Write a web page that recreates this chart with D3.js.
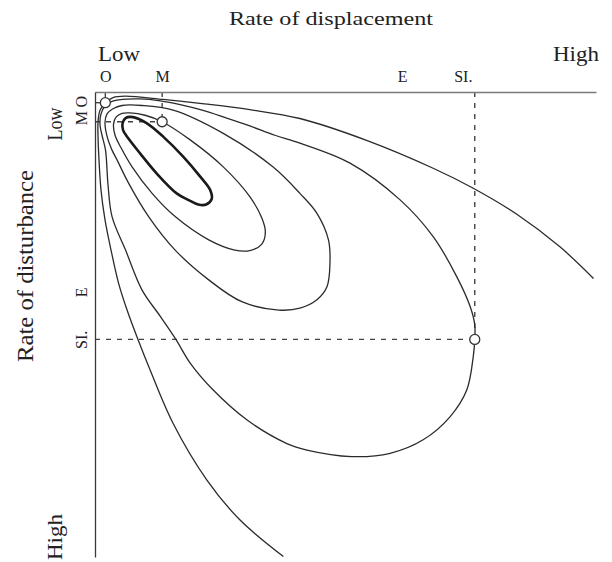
<!DOCTYPE html>
<html>
<head>
<meta charset="utf-8">
<script src="https://cdn.jsdelivr.net/npm/d3@7"></script>
<style>
  html, body { margin: 0; padding: 0; background: #fff; }
  svg { display: block; }
  text { font-family: "Liberation Serif", "Times New Roman", serif; fill: #222; }
</style>
</head>
<body>
<svg id="chart" width="612" height="562"></svg>
<script>
// Species-richness contours over rate of displacement (x) and rate of disturbance (y),
// both on a relative 0–100 scale where 0 is "low". Points are [displacement, disturbance].

// Highest contour: small closed loop (drawn heavy)
const innerLoop = [
  [5.5, 6.7], [6.1, 5.6], [7.6, 5.4], [10.3, 6.7], [13.6, 9.6], [17.6, 13.9],
  [21.0, 18.2], [23.0, 21.1], [23.3, 23.0], [22.2, 24.2], [20.6, 24.2], [18.6, 23.2],
  [16.3, 21.8], [12.3, 17.5], [9.0, 13.2], [6.6, 9.9], [5.6, 8.2]
];

// Contour through point M
const loopM = [
  [3.7, 6.9], [4.2, 5.4], [5.4, 4.6], [7.0, 4.5], [10.0, 5.0], [13.4, 6.4],
  [19.0, 10.3], [25.6, 16.1], [30.9, 22.5], [33.3, 27.1], [34.0, 30.1], [33.3, 32.7],
  [30.9, 34.1], [27.9, 34.0], [22.7, 31.8], [16.0, 26.8], [11.4, 21.8], [7.4, 16.1],
  [5.2, 12.0], [4.0, 9.3]
];

// Intermediate contour
const loopMid = [
  [2.0, 6.5], [2.4, 4.7], [3.6, 3.6], [5.4, 2.9], [9.4, 2.9], [15.6, 3.9],
  [25.6, 8.9], [35.5, 16.1], [40.9, 21.8], [44.3, 26.1], [46.6, 31.8], [46.9, 36.8],
  [46.3, 41.9], [44.3, 44.7], [40.9, 46.5], [36.7, 46.9], [29.3, 45.1], [22.7, 40.4],
  [16.0, 34.0], [10.7, 26.8], [6.7, 19.6], [4.4, 14.6], [3.4, 12.5], [2.4, 9.5]
];

// Contour through point SI.
const loopSI = [
  [1.0, 7.1], [1.2, 4.7], [2.0, 3.0], [3.4, 2.0], [5.4, 1.6], [9.0, 1.5],
  [13.0, 1.9], [17.0, 2.7], [21.4, 3.9], [26.0, 5.5], [30.9, 7.3], [35.9, 9.3],
  [40.9, 11.0], [50.9, 15.3], [60.9, 23.2], [67.5, 31.1], [72.2, 39.7], [74.9, 46.2],
  [75.8, 50.1], [75.8, 53.2], [75.5, 56.9], [74.2, 64.1], [70.9, 69.8], [65.5, 74.8],
  [58.9, 77.7], [51.2, 78.4], [42.3, 77.0], [38.3, 75.6], [30.3, 70.5], [23.6, 64.1],
  [19.0, 58.3], [16.2, 53.3], [13.0, 48.2], [9.4, 42.6], [6.1, 34.0], [3.4, 26.8],
  [2.6, 20.0], [2.1, 12.5], [1.4, 9.3]
];

// Lowest contour through O: open, runs out of the frame at the right and at the bottom
const outerContour = [
  [99.5, 40.1], [92.8, 33.3], [84.2, 26.3], [75.5, 20.7], [67.5, 16.4], [54.2, 10.4],
  [40.9, 5.7], [30.9, 3.8], [21.4, 2.5], [13.6, 1.6], [6.0, 0.9], [3.6, 1.2],
  [2.06, 2.3], [1.0, 3.9], [0.6, 6.5], [0.6, 9.3], [0.7, 12.5], [1.2, 21.1],
  [2.0, 27.5], [3.2, 34.0], [4.7, 41.1], [6.4, 46.9], [8.6, 53.3], [11.0, 59.8],
  [15.6, 71.3], [22.3, 83.4], [28.9, 92.0], [37.6, 99.9]
];

// Named points marked on both axes
const markerNames        = ["O", "M", "E", "SI."];
const markerDisplacement = [2.06, 13.4, 61.3, 75.8];
const markerDisturbance  = [2.3, 6.4, 43.0, 53.2];
const circledMarkers     = ["O", "M", "SI."];

const xTitle = "Rate of displacement";
const yTitle = "Rate of disturbance";
const lowLabel = "Low";
const highLabel = "High";

// ---------------------------------------------------------------------------

const svg = d3.select("#chart");

const x = d3.scaleLinear().domain([0, 100]).range([95, 596]);
const y = d3.scaleLinear().domain([0, 100]).range([92, 557]);

const markers = markerNames.map((name, i) => ({
  name, dx: markerDisplacement[i], dy: markerDisturbance[i]
}));
const circled = markers.filter(m => circledMarkers.includes(m.name));
const R = 5;

// Dashed guides from each circled point back to both axes
const guides = svg.append("g")
  .attr("stroke", "#444")
  .attr("stroke-width", 1.4)
  .attr("stroke-dasharray", "5,6")
  .attr("fill", "none");

guides.selectAll("line.v").data(circled).join("line")
  .attr("class", "v")
  .attr("x1", d => x(d.dx)).attr("x2", d => x(d.dx))
  .attr("y1", y(0)).attr("y2", d => y(d.dy) - R);

guides.selectAll("line.h").data(circled).join("line")
  .attr("class", "h")
  .attr("y1", d => y(d.dy)).attr("y2", d => y(d.dy))
  .attr("x1", x(0)).attr("x2", d => x(d.dx) - R);

// Contours
const openLine = d3.line()
  .x(d => x(d[0])).y(d => y(d[1]))
  .curve(d3.curveCatmullRom.alpha(0.5));
const closedLine = d3.line()
  .x(d => x(d[0])).y(d => y(d[1]))
  .curve(d3.curveCatmullRomClosed.alpha(0.5));

const contours = svg.append("g").attr("fill", "none").attr("stroke", "#2b2b2b");

contours.append("path").attr("d", openLine(outerContour)).attr("stroke-width", 1.3);
[loopSI, loopMid, loopM].forEach(loop => {
  contours.append("path").attr("d", closedLine(loop)).attr("stroke-width", 1.3);
});
contours.append("path").attr("d", closedLine(innerLoop))
  .attr("stroke", "#1a1a1a").attr("stroke-width", 2.6);

// Axes along the top (displacement) and left (disturbance) edges
const topAxis = d3.axisTop(x)
  .tickValues(markerDisplacement)
  .tickFormat((d, i) => markerNames[i])
  .tickSize(0).tickSizeOuter(0).tickPadding(10);

const gTop = svg.append("g")
  .attr("transform", `translate(0,${y(0)})`)
  .call(topAxis);
gTop.select(".domain").attr("stroke", "#7a7a7a").attr("stroke-width", 1.6);
gTop.selectAll(".tick text")
  .attr("font-size", 16)
  .attr("dx", (d, i) => markerNames[i] === "SI." ? -12 : 0);

const leftAxis = d3.axisLeft(y)
  .tickValues(markerDisturbance)
  .tickFormat((d, i) => markerNames[i])
  .tickSize(0).tickSizeOuter(0);

const gLeft = svg.append("g")
  .attr("transform", `translate(${x(0)},0)`)
  .call(leftAxis);
gLeft.select(".domain").attr("stroke", "#3a3a3a").attr("stroke-width", 1.3);
gLeft.selectAll(".tick text")
  .attr("x", null).attr("dy", null)
  .attr("text-anchor", "middle")
  .attr("font-size", 16)
  .attr("transform", "translate(-8,0) rotate(-90)")
  .attr("dx", (d, i) => markerNames[i] === "M" ? 4 : (markerNames[i] === "O" ? 1.5 : 0));

// Point markers
svg.append("g").selectAll("circle").data(circled).join("circle")
  .attr("cx", d => x(d.dx)).attr("cy", d => y(d.dy)).attr("r", R)
  .attr("fill", "#fff").attr("stroke", "#333").attr("stroke-width", 1.3);

// Titles and end labels
svg.append("text")
  .attr("x", 331).attr("y", 25)
  .attr("text-anchor", "middle")
  .attr("font-size", 19)
  .attr("textLength", 204).attr("lengthAdjust", "spacingAndGlyphs")
  .text(xTitle);

svg.append("text")
  .attr("x", 98).attr("y", 61)
  .attr("font-size", 20)
  .attr("textLength", 42).attr("lengthAdjust", "spacingAndGlyphs")
  .text(lowLabel);

svg.append("text")
  .attr("x", 553).attr("y", 61)
  .attr("font-size", 20)
  .attr("textLength", 46).attr("lengthAdjust", "spacingAndGlyphs")
  .text(highLabel);

svg.append("text")
  .attr("transform", "translate(33,266) rotate(-90)")
  .attr("text-anchor", "middle")
  .attr("font-size", 24)
  .attr("textLength", 192).attr("lengthAdjust", "spacingAndGlyphs")
  .text(yTitle);

svg.append("text")
  .attr("transform", "translate(62,124) rotate(-90)")
  .attr("text-anchor", "middle")
  .attr("font-size", 22)
  .attr("textLength", 33).attr("lengthAdjust", "spacingAndGlyphs")
  .text(lowLabel);

svg.append("text")
  .attr("transform", "translate(62,537) rotate(-90)")
  .attr("text-anchor", "middle")
  .attr("font-size", 22)
  .attr("textLength", 46).attr("lengthAdjust", "spacingAndGlyphs")
  .text(highLabel);
</script>
</body>
</html>
